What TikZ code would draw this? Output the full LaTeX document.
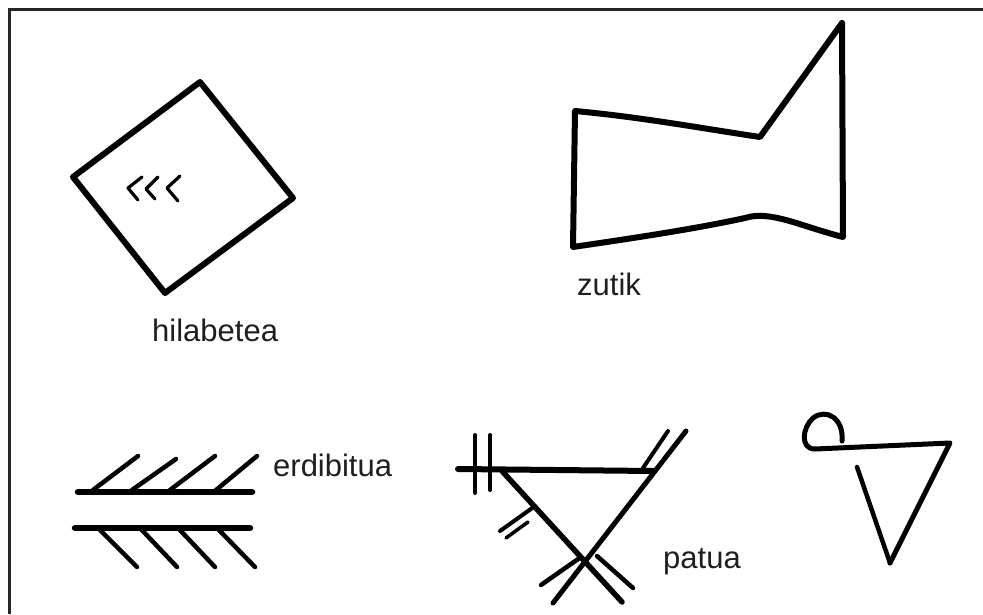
\documentclass[tikz,border=0pt]{standalone}
\usepackage{fontspec}
\setmainfont{Liberation Sans}
\begin{document}
\begin{tikzpicture}[x=1pt,y=-1pt,
  ink/.style={draw=black,line width=6pt,line join=round,line cap=round},
  thin ink/.style={draw=black,line width=4.5pt,line cap=round},
  lbl/.style={anchor=base west,inner sep=0pt,text=black!88,font=\fontsize{31}{36}\selectfont}]
\useasboundingbox (0,0) rectangle (983,614);
\fill[white] (0,0) rectangle (983,614);
% frame (top and left only)
\draw[line width=2.5pt,black!85] (9.5,614) -- (9.5,9.5) -- (983,9.5);

% hilabetea
\coordinate (dT) at (200,82);
\coordinate (dL) at (73,177);
\coordinate (dB) at (165,293);
\coordinate (dR) at (293,198);
\draw[ink] (dT) -- (dL) -- (dB) -- (dR) -- cycle;
\draw[line width=3.2pt,line cap=round,line join=round] (142,177) -- (128,188) -- (138,200);
\draw[line width=3.2pt,line cap=round,line join=round] (158,177) -- (146,189) -- (155,199);
\draw[line width=3.2pt,line cap=round,line join=round] (180,176) -- (167,188) -- (178,201);
\node[lbl] (hil) at (152,341) {hilabetea};

% zutik
\coordinate (zA) at (575,111);
\coordinate (zB) at (760,137);
\coordinate (zC) at (842,23);
\coordinate (zD) at (843,237);
\coordinate (zE) at (573,247);
\draw[ink] (zA) .. controls (640,117) and (700,128) .. (zB) -- (zC) -- (zD)
  .. controls (800,226) and (770,210) .. (745,218)
  .. controls (690,230) and (620,240) .. (zE) -- cycle;
\node[lbl] (zut) at (577,295) {zutik};

% erdibitua
\draw[line width=6.5pt,line cap=round] (78,492) -- (252,492);
\draw[thin ink] (93,490) -- (138,456);
\draw[thin ink] (132,490) -- (176,459);
\draw[thin ink] (170,490) -- (215,456);
\draw[thin ink] (216,490) -- (257,456);
\draw[line width=6.5pt,line cap=round] (75,528) -- (250,528);
\draw[thin ink] (98,528) -- (137,567);
\draw[thin ink] (140,528) -- (177,567);
\draw[thin ink] (178,528) -- (215,567);
\draw[thin ink] (217,528) -- (255,567);
\node[lbl] (erd) at (273,476) {erdibitua};

% patua
\coordinate (pL) at (458,469);
\coordinate (pR) at (653,471);
\coordinate (pLt) at (502,471);
\draw[line width=6pt,line cap=round] (pL) -- (pR);
\draw[line width=4pt,line cap=round] (475,435) -- (475,493);
\draw[line width=4pt,line cap=round] (490,435) -- (490,490);
\draw[line width=5.5pt,line cap=round] (pLt) -- (622,602);
\draw[line width=4.5pt,line cap=round] (597,556) -- (633,588);
\draw[line width=5pt,line cap=round] (686,431) -- (553,603);
\draw[line width=4pt,line cap=round] (643,468) -- (668,431);
\draw[line width=4.5pt,line cap=round] (581,557) -- (541,585);
\draw[line width=4pt,line cap=round] (535,506) -- (500,531);
\draw[line width=3.5pt,line cap=round] (528,522) -- (506,538);
\node[lbl] (pat) at (663,568) {patua};

% right symbol
\coordinate (rR) at (950,443);
\coordinate (rB) at (890,563);
\draw[line width=5pt,line cap=round,line join=round]
  (842,441) .. controls (844,418) and (826,408) .. (813,418)
  .. controls (802,428) and (800,449) .. (815,449) -- (rR) -- (rB);
\draw[line width=4.5pt,line cap=round] (857,467) -- (rB);
\end{tikzpicture}
\end{document}
